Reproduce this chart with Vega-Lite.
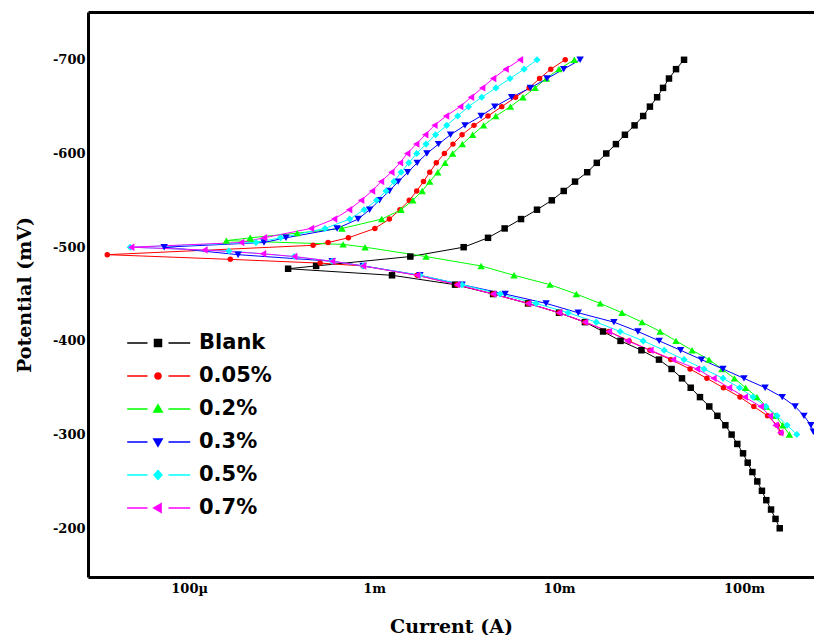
{
"$schema": "https://vega.github.io/schema/vega-lite/v6.json",
"width": 726, "height": 565,
"autosize": {"type": "none"},
"padding": {"left": 88, "top": 12, "right": 0, "bottom": 58},
"background": "white",
"config": {
  "view": {"stroke": null},
  "axis": {"domainColor": "black", "domainWidth": 3, "ticks": false, "grid": false,
    "labelFont": "DejaVu Serif", "labelFontWeight": "bold", "labelFontSize": 13, "labelColor": "black",
    "titleFont": "DejaVu Serif", "titleFontWeight": "bold", "titleFontSize": 19, "titleColor": "black"},
  "point": {"filled": true, "opacity": 1, "clip": true}
},
"datasets": {"d": [
{"s":"Blank","i":0,"E":-700,"I":0.0474},{"s":"Blank","i":1,"E":-690,"I":0.0429},{"s":"Blank","i":2,"E":-680,"I":0.0393},{"s":"Blank","i":3,"E":-670,"I":0.0365},{"s":"Blank","i":4,"E":-660,"I":0.0339},{"s":"Blank","i":5,"E":-650,"I":0.0310},{"s":"Blank","i":6,"E":-640,"I":0.0285},{"s":"Blank","i":7,"E":-630,"I":0.0256},{"s":"Blank","i":8,"E":-620,"I":0.0227},{"s":"Blank","i":9,"E":-610,"I":0.0203},{"s":"Blank","i":10,"E":-600,"I":0.0180},{"s":"Blank","i":11,"E":-590,"I":0.0160},{"s":"Blank","i":12,"E":-580,"I":0.0142},{"s":"Blank","i":13,"E":-570,"I":0.0122},{"s":"Blank","i":14,"E":-560,"I":0.0106},{"s":"Blank","i":15,"E":-550,"I":0.00914},{"s":"Blank","i":16,"E":-540,"I":0.00760},{"s":"Blank","i":17,"E":-530,"I":0.00623},{"s":"Blank","i":18,"E":-520,"I":0.00508},{"s":"Blank","i":19,"E":-510,"I":0.00413},{"s":"Blank","i":20,"E":-500,"I":0.00305},{"s":"Blank","i":21,"E":-490,"I":0.00157},{"s":"Blank","i":22,"E":-480,"I":0.000486},{"s":"Blank","i":23,"E":-477,"I":0.000343},{"s":"Blank","i":24,"E":-470,"I":0.00125},{"s":"Blank","i":25,"E":-460,"I":0.00274},{"s":"Blank","i":26,"E":-450,"I":0.00440},{"s":"Blank","i":27,"E":-440,"I":0.00680},{"s":"Blank","i":28,"E":-430,"I":0.0100},{"s":"Blank","i":29,"E":-420,"I":0.0138},{"s":"Blank","i":30,"E":-410,"I":0.0173},{"s":"Blank","i":31,"E":-400,"I":0.0215},{"s":"Blank","i":32,"E":-390,"I":0.0279},{"s":"Blank","i":33,"E":-380,"I":0.0347},{"s":"Blank","i":34,"E":-370,"I":0.0406},{"s":"Blank","i":35,"E":-360,"I":0.0462},{"s":"Blank","i":36,"E":-350,"I":0.0515},{"s":"Blank","i":37,"E":-340,"I":0.0578},{"s":"Blank","i":38,"E":-330,"I":0.0649},{"s":"Blank","i":39,"E":-320,"I":0.0718},{"s":"Blank","i":40,"E":-310,"I":0.0793},{"s":"Blank","i":41,"E":-300,"I":0.0857},{"s":"Blank","i":42,"E":-290,"I":0.0920},{"s":"Blank","i":43,"E":-280,"I":0.0988},{"s":"Blank","i":44,"E":-270,"I":0.1047},{"s":"Blank","i":45,"E":-260,"I":0.111},{"s":"Blank","i":46,"E":-250,"I":0.118},{"s":"Blank","i":47,"E":-240,"I":0.125},{"s":"Blank","i":48,"E":-230,"I":0.132},{"s":"Blank","i":49,"E":-220,"I":0.140},{"s":"Blank","i":50,"E":-210,"I":0.148},{"s":"Blank","i":51,"E":-200,"I":0.156},
{"s":"0.05%","i":0,"E":-700,"I":0.0108},{"s":"0.05%","i":1,"E":-690,"I":0.00902},{"s":"0.05%","i":2,"E":-680,"I":0.00785},{"s":"0.05%","i":3,"E":-670,"I":0.00689},{"s":"0.05%","i":4,"E":-660,"I":0.00582},{"s":"0.05%","i":5,"E":-650,"I":0.00490},{"s":"0.05%","i":6,"E":-640,"I":0.00413},{"s":"0.05%","i":7,"E":-630,"I":0.00347},{"s":"0.05%","i":8,"E":-620,"I":0.00299},{"s":"0.05%","i":9,"E":-610,"I":0.00267},{"s":"0.05%","i":10,"E":-600,"I":0.00240},{"s":"0.05%","i":11,"E":-590,"I":0.00217},{"s":"0.05%","i":12,"E":-580,"I":0.00200},{"s":"0.05%","i":13,"E":-570,"I":0.00185},{"s":"0.05%","i":14,"E":-560,"I":0.00170},{"s":"0.05%","i":15,"E":-550,"I":0.00155},{"s":"0.05%","i":16,"E":-540,"I":0.00138},{"s":"0.05%","i":17,"E":-530,"I":0.00121},{"s":"0.05%","i":18,"E":-520,"I":0.00101},{"s":"0.05%","i":19,"E":-510,"I":0.000726},{"s":"0.05%","i":20,"E":-505,"I":0.000564},{"s":"0.05%","i":21,"E":-502,"I":0.000468},{"s":"0.05%","i":22,"E":-492,"I":0.0000361},{"s":"0.05%","i":23,"E":-487,"I":0.000167},{"s":"0.05%","i":24,"E":-483,"I":0.000511},{"s":"0.05%","i":25,"E":-480,"I":0.000872},{"s":"0.05%","i":26,"E":-470,"I":0.00171},{"s":"0.05%","i":27,"E":-460,"I":0.00281},{"s":"0.05%","i":28,"E":-450,"I":0.00440},{"s":"0.05%","i":29,"E":-440,"I":0.00680},{"s":"0.05%","i":30,"E":-430,"I":0.0100},{"s":"0.05%","i":31,"E":-420,"I":0.0138},{"s":"0.05%","i":32,"E":-410,"I":0.0186},{"s":"0.05%","i":33,"E":-400,"I":0.0239},{"s":"0.05%","i":34,"E":-390,"I":0.0310},{"s":"0.05%","i":35,"E":-380,"I":0.0402},{"s":"0.05%","i":36,"E":-370,"I":0.0511},{"s":"0.05%","i":37,"E":-360,"I":0.0630},{"s":"0.05%","i":38,"E":-350,"I":0.0774},{"s":"0.05%","i":39,"E":-340,"I":0.0951},{"s":"0.05%","i":40,"E":-330,"I":0.113},{"s":"0.05%","i":41,"E":-320,"I":0.134},{"s":"0.05%","i":42,"E":-310,"I":0.151},{"s":"0.05%","i":43,"E":-302,"I":0.1585},
{"s":"0.2%","i":0,"E":-700,"I":0.0121},{"s":"0.2%","i":1,"E":-690,"I":0.00998},{"s":"0.2%","i":2,"E":-680,"I":0.00853},{"s":"0.2%","i":3,"E":-670,"I":0.00743},{"s":"0.2%","i":4,"E":-660,"I":0.00638},{"s":"0.2%","i":5,"E":-650,"I":0.00546},{"s":"0.2%","i":6,"E":-640,"I":0.00455},{"s":"0.2%","i":7,"E":-630,"I":0.00391},{"s":"0.2%","i":8,"E":-620,"I":0.00341},{"s":"0.2%","i":9,"E":-610,"I":0.00300},{"s":"0.2%","i":10,"E":-600,"I":0.00266},{"s":"0.2%","i":11,"E":-590,"I":0.00242},{"s":"0.2%","i":12,"E":-580,"I":0.00221},{"s":"0.2%","i":13,"E":-570,"I":0.00200},{"s":"0.2%","i":14,"E":-560,"I":0.00182},{"s":"0.2%","i":15,"E":-550,"I":0.00162},{"s":"0.2%","i":16,"E":-540,"I":0.00140},{"s":"0.2%","i":17,"E":-530,"I":0.00110},{"s":"0.2%","i":18,"E":-520,"I":0.000671},{"s":"0.2%","i":19,"E":-515,"I":0.000384},{"s":"0.2%","i":20,"E":-510,"I":0.000214},{"s":"0.2%","i":21,"E":-507,"I":0.000159},{"s":"0.2%","i":22,"E":-503,"I":0.000680},{"s":"0.2%","i":23,"E":-500,"I":0.000894},{"s":"0.2%","i":24,"E":-490,"I":0.00191},{"s":"0.2%","i":25,"E":-480,"I":0.00379},{"s":"0.2%","i":26,"E":-470,"I":0.00571},{"s":"0.2%","i":27,"E":-460,"I":0.00894},{"s":"0.2%","i":28,"E":-450,"I":0.0124},{"s":"0.2%","i":29,"E":-440,"I":0.0167},{"s":"0.2%","i":30,"E":-430,"I":0.0219},{"s":"0.2%","i":31,"E":-420,"I":0.0281},{"s":"0.2%","i":32,"E":-410,"I":0.0352},{"s":"0.2%","i":33,"E":-400,"I":0.0429},{"s":"0.2%","i":34,"E":-390,"I":0.0524},{"s":"0.2%","i":35,"E":-380,"I":0.0647},{"s":"0.2%","i":36,"E":-370,"I":0.0760},{"s":"0.2%","i":37,"E":-360,"I":0.0887},{"s":"0.2%","i":38,"E":-350,"I":0.102},{"s":"0.2%","i":39,"E":-340,"I":0.1175},{"s":"0.2%","i":40,"E":-330,"I":0.132},{"s":"0.2%","i":41,"E":-320,"I":0.148},{"s":"0.2%","i":42,"E":-310,"I":0.162},{"s":"0.2%","i":43,"E":-300,"I":0.176},
{"s":"0.3%","i":0,"E":-700,"I":0.0130},{"s":"0.3%","i":1,"E":-690,"I":0.0106},{"s":"0.3%","i":2,"E":-680,"I":0.00861},{"s":"0.3%","i":3,"E":-670,"I":0.00700},{"s":"0.3%","i":4,"E":-660,"I":0.00554},{"s":"0.3%","i":5,"E":-650,"I":0.00449},{"s":"0.3%","i":6,"E":-640,"I":0.00379},{"s":"0.3%","i":7,"E":-630,"I":0.00310},{"s":"0.3%","i":8,"E":-620,"I":0.00259},{"s":"0.3%","i":9,"E":-610,"I":0.00223},{"s":"0.3%","i":10,"E":-600,"I":0.00193},{"s":"0.3%","i":11,"E":-590,"I":0.00171},{"s":"0.3%","i":12,"E":-580,"I":0.00152},{"s":"0.3%","i":13,"E":-570,"I":0.00135},{"s":"0.3%","i":14,"E":-560,"I":0.00121},{"s":"0.3%","i":15,"E":-550,"I":0.00107},{"s":"0.3%","i":16,"E":-540,"I":0.000946},{"s":"0.3%","i":17,"E":-530,"I":0.000820},{"s":"0.3%","i":18,"E":-520,"I":0.000631},{"s":"0.3%","i":19,"E":-510,"I":0.000334},{"s":"0.3%","i":20,"E":-505,"I":0.000254},{"s":"0.3%","i":21,"E":-500,"I":0.0000733},{"s":"0.3%","i":22,"E":-492,"I":0.000184},{"s":"0.3%","i":23,"E":-485,"I":0.000593},{"s":"0.3%","i":24,"E":-480,"I":0.000872},{"s":"0.3%","i":25,"E":-470,"I":0.00177},{"s":"0.3%","i":26,"E":-460,"I":0.00299},{"s":"0.3%","i":27,"E":-450,"I":0.00511},{"s":"0.3%","i":28,"E":-440,"I":0.00851},{"s":"0.3%","i":29,"E":-430,"I":0.0127},{"s":"0.3%","i":30,"E":-420,"I":0.0198},{"s":"0.3%","i":31,"E":-410,"I":0.0267},{"s":"0.3%","i":32,"E":-400,"I":0.0348},{"s":"0.3%","i":33,"E":-390,"I":0.0454},{"s":"0.3%","i":34,"E":-380,"I":0.0589},{"s":"0.3%","i":35,"E":-370,"I":0.0769},{"s":"0.3%","i":36,"E":-360,"I":0.100},{"s":"0.3%","i":37,"E":-350,"I":0.130},{"s":"0.3%","i":38,"E":-340,"I":0.161},{"s":"0.3%","i":39,"E":-330,"I":0.189},{"s":"0.3%","i":40,"E":-320,"I":0.211},{"s":"0.3%","i":41,"E":-310,"I":0.230},{"s":"0.3%","i":42,"E":-303,"I":0.237},
{"s":"0.5%","i":0,"E":-700,"I":0.00760},{"s":"0.5%","i":1,"E":-690,"I":0.00647},{"s":"0.5%","i":2,"E":-680,"I":0.00543},{"s":"0.5%","i":3,"E":-670,"I":0.00456},{"s":"0.5%","i":4,"E":-660,"I":0.00382},{"s":"0.5%","i":5,"E":-650,"I":0.00324},{"s":"0.5%","i":6,"E":-640,"I":0.00283},{"s":"0.5%","i":7,"E":-630,"I":0.00247},{"s":"0.5%","i":8,"E":-620,"I":0.00215},{"s":"0.5%","i":9,"E":-610,"I":0.00191},{"s":"0.5%","i":10,"E":-600,"I":0.00170},{"s":"0.5%","i":11,"E":-590,"I":0.00154},{"s":"0.5%","i":12,"E":-580,"I":0.00140},{"s":"0.5%","i":13,"E":-570,"I":0.00128},{"s":"0.5%","i":14,"E":-560,"I":0.00116},{"s":"0.5%","i":15,"E":-550,"I":0.00103},{"s":"0.5%","i":16,"E":-540,"I":0.000883},{"s":"0.5%","i":17,"E":-530,"I":0.000738},{"s":"0.5%","i":18,"E":-520,"I":0.000543},{"s":"0.5%","i":19,"E":-510,"I":0.000312},{"s":"0.5%","i":20,"E":-505,"I":0.000230},{"s":"0.5%","i":21,"E":-500,"I":0.0000480},{"s":"0.5%","i":22,"E":-496,"I":0.000164},{"s":"0.5%","i":23,"E":-490,"I":0.000370},{"s":"0.5%","i":24,"E":-485,"I":0.000593},{"s":"0.5%","i":25,"E":-480,"I":0.000872},{"s":"0.5%","i":26,"E":-470,"I":0.00177},{"s":"0.5%","i":27,"E":-460,"I":0.00299},{"s":"0.5%","i":28,"E":-450,"I":0.00480},{"s":"0.5%","i":29,"E":-440,"I":0.00751},{"s":"0.5%","i":30,"E":-430,"I":0.0112},{"s":"0.5%","i":31,"E":-420,"I":0.0159},{"s":"0.5%","i":32,"E":-410,"I":0.0214},{"s":"0.5%","i":33,"E":-400,"I":0.0285},{"s":"0.5%","i":34,"E":-390,"I":0.0370},{"s":"0.5%","i":35,"E":-380,"I":0.0474},{"s":"0.5%","i":36,"E":-370,"I":0.0608},{"s":"0.5%","i":37,"E":-360,"I":0.0770},{"s":"0.5%","i":38,"E":-350,"I":0.0946},{"s":"0.5%","i":39,"E":-340,"I":0.112},{"s":"0.5%","i":40,"E":-330,"I":0.1315},{"s":"0.5%","i":41,"E":-320,"I":0.151},{"s":"0.5%","i":42,"E":-310,"I":0.171},{"s":"0.5%","i":43,"E":-300,"I":0.193},
{"s":"0.7%","i":0,"E":-700,"I":0.00615},{"s":"0.7%","i":1,"E":-690,"I":0.00514},{"s":"0.7%","i":2,"E":-680,"I":0.00440},{"s":"0.7%","i":3,"E":-670,"I":0.00384},{"s":"0.7%","i":4,"E":-660,"I":0.00334},{"s":"0.7%","i":5,"E":-650,"I":0.00292},{"s":"0.7%","i":6,"E":-640,"I":0.00245},{"s":"0.7%","i":7,"E":-630,"I":0.00212},{"s":"0.7%","i":8,"E":-620,"I":0.00189},{"s":"0.7%","i":9,"E":-610,"I":0.00169},{"s":"0.7%","i":10,"E":-600,"I":0.00151},{"s":"0.7%","i":11,"E":-590,"I":0.00138},{"s":"0.7%","i":12,"E":-580,"I":0.00124},{"s":"0.7%","i":13,"E":-570,"I":0.00109},{"s":"0.7%","i":14,"E":-560,"I":0.000975},{"s":"0.7%","i":15,"E":-550,"I":0.000851},{"s":"0.7%","i":16,"E":-540,"I":0.000733},{"s":"0.7%","i":17,"E":-530,"I":0.000608},{"s":"0.7%","i":18,"E":-520,"I":0.000456},{"s":"0.7%","i":19,"E":-510,"I":0.000254},{"s":"0.7%","i":20,"E":-505,"I":0.000191},{"s":"0.7%","i":21,"E":-500,"I":0.0000486},{"s":"0.7%","i":22,"E":-497,"I":0.000121},{"s":"0.7%","i":23,"E":-493,"I":0.000251},{"s":"0.7%","i":24,"E":-490,"I":0.000370},{"s":"0.7%","i":25,"E":-485,"I":0.000593},{"s":"0.7%","i":26,"E":-480,"I":0.000872},{"s":"0.7%","i":27,"E":-470,"I":0.00171},{"s":"0.7%","i":28,"E":-460,"I":0.00281},{"s":"0.7%","i":29,"E":-450,"I":0.00440},{"s":"0.7%","i":30,"E":-440,"I":0.00680},{"s":"0.7%","i":31,"E":-430,"I":0.0100},{"s":"0.7%","i":32,"E":-420,"I":0.0138},{"s":"0.7%","i":33,"E":-410,"I":0.0186},{"s":"0.7%","i":34,"E":-400,"I":0.0234},{"s":"0.7%","i":35,"E":-390,"I":0.0312},{"s":"0.7%","i":36,"E":-380,"I":0.0413},{"s":"0.7%","i":37,"E":-370,"I":0.0557},{"s":"0.7%","i":38,"E":-360,"I":0.0684},{"s":"0.7%","i":39,"E":-350,"I":0.0830},{"s":"0.7%","i":40,"E":-340,"I":0.101},{"s":"0.7%","i":41,"E":-330,"I":0.123},{"s":"0.7%","i":42,"E":-320,"I":0.138},{"s":"0.7%","i":43,"E":-310,"I":0.148},{"s":"0.7%","i":44,"E":-302,"I":0.157}
]},
"data": {"name": "d"},
"encoding": {
  "x": {"field": "I", "type": "quantitative", "scale": {"type": "log", "domain": [0.0000284, 0.239], "nice": false}, "axis": null},
  "y": {"field": "E", "type": "quantitative", "scale": {"domain": [-751, -148], "reverse": true, "nice": false, "zero": false}},
  "color": {"field": "s", "type": "nominal",
    "scale": {"domain": ["Blank", "0.05%", "0.2%", "0.3%", "0.5%", "0.7%"], "range": ["#000000", "#ff0000", "#00ff00", "#0000ff", "#00ffff", "#ff00ff"]}}
},
"layer": [
  {
    "mark": {"type": "line", "strokeWidth": 1, "clip": true},
    "encoding": {
      "x": {"field": "I", "type": "quantitative", "scale": {"type": "log", "domain": [0.0000284, 0.239], "nice": false},
        "axis": {"orient": "bottom", "title": "Current (A)", "values": [0.0001, 0.001, 0.01, 0.1], "format": "~s", "labelPadding": 5, "titlePadding": 22}},
      "y": {"field": "E", "type": "quantitative", "scale": {"domain": [-751, -148], "reverse": true, "nice": false, "zero": false},
        "axis": {"title": "Potential (mV)", "values": [-700, -600, -500, -400, -300, -200], "labelExpr": "'' + datum.value", "labelPadding": 3, "titlePadding": 18}},
      "order": {"field": "i", "type": "quantitative"}
    }
  },
  {
    "transform": [{"filter": "datum.s === 'Blank'"}],
    "mark": {"type": "point", "shape": "square", "size": 42},
    "encoding": {
      "color": {"field": "s", "type": "nominal",
        "scale": {"domain": ["Blank", "0.05%", "0.2%", "0.3%", "0.5%", "0.7%"], "range": ["#000000", "#ff0000", "#00ff00", "#0000ff", "#00ffff", "#ff00ff"]},
        "legend": {"title": null, "orient": "none", "legendX": 55, "legendY": 316, "padding": 0,
          "symbolSize": 784, "symbolStrokeWidth": 1.5, "symbolOpacity": 1, "labelOffset": 26, "rowPadding": 8,
          "labelFont": "DejaVu Sans", "labelFontWeight": "bold", "labelFontSize": 21, "labelColor": "black",
          "symbolType": {"expr": "datum.value==='Blank'?'M-2.2,0H-0.75M0.75,0H2.3M-0.25,-0.25H0.25V0.25H-0.25Z':datum.value==='0.05%'?'M-2.2,0H-0.75M0.75,0H2.3M-0.22,0A0.22,0.22,0,1,0,0.22,0A0.22,0.22,0,1,0,-0.22,0Z':datum.value==='0.2%'?'M-2.2,0H-0.75M0.75,0H2.3M0,-0.3L0.3,0.22L-0.3,0.22Z':datum.value==='0.3%'?'M-2.2,0H-0.75M0.75,0H2.3M0,0.3L0.3,-0.22L-0.3,-0.22Z':datum.value==='0.5%'?'M-2.2,0H-0.75M0.75,0H2.3M0,-0.32L0.28,0L0,0.32L-0.28,0Z':'M-2.2,0H-0.75M0.75,0H2.3M-0.3,0L0.22,-0.3L0.22,0.3Z'"}}}
    }
  },
  {"transform": [{"filter": "datum.s === '0.05%'"}], "mark": {"type": "point", "shape": "circle", "size": 30}},
  {"transform": [{"filter": "datum.s === '0.2%'"}], "mark": {"type": "point", "shape": "triangle-up", "size": 55}},
  {"transform": [{"filter": "datum.s === '0.3%'"}], "mark": {"type": "point", "shape": "triangle-down", "size": 55}},
  {"transform": [{"filter": "datum.s === '0.5%'"}], "mark": {"type": "point", "shape": "diamond", "size": 50}},
  {"transform": [{"filter": "datum.s === '0.7%'"}], "mark": {"type": "point", "shape": "triangle-left", "size": 55}},
  {
    "mark": {"type": "point", "opacity": 0},
    "encoding": {
      "x": {"field": "I", "type": "quantitative", "scale": {"type": "log", "domain": [0.0000284, 0.239], "nice": false},
        "axis": {"orient": "top", "labels": false, "ticks": false, "title": null, "domainWidth": 3}}
    }
  }
],
"resolve": {"axis": {"x": "independent"}}
}
